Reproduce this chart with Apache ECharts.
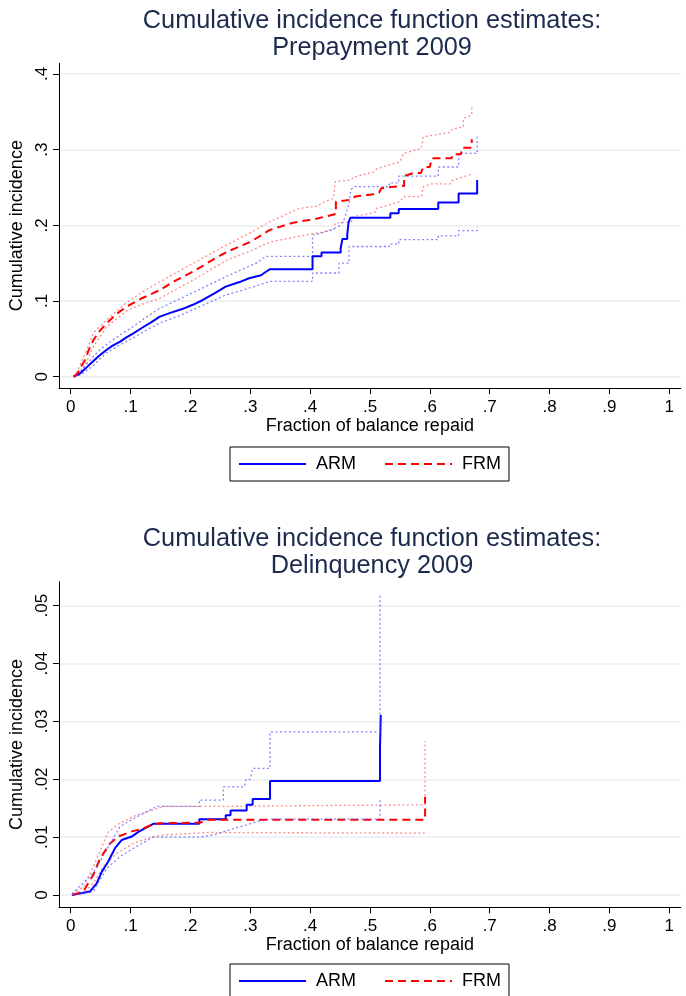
<!DOCTYPE html>
<html><head><meta charset="utf-8">
<script src="https://cdn.jsdelivr.net/npm/echarts@6/dist/echarts.min.js"></script>
<style>html,body{margin:0;padding:0;background:#fff}#c{width:686px;height:996px}</style>
</head><body><div id="c"></div>
<script>
// ---------- tick values ----------
const xTicks = [0, 0.1, 0.2, 0.3, 0.4, 0.5, 0.6, 0.7, 0.8, 0.9, 1];
const prepayYTicks = [0, 0.1, 0.2, 0.3, 0.4];
const delinqYTicks = [0, 0.01, 0.02, 0.03, 0.04, 0.05];

const titleTop = 'Cumulative incidence function estimates:\nPrepayment 2009';
const titleBottom = 'Cumulative incidence function estimates:\nDelinquency 2009';
const xName = 'Fraction of balance repaid';
const yName = 'Cumulative incidence';
const groups = ['ARM', 'FRM'];

// ---------- Prepayment 2009: [fraction repaid, cumulative incidence] ----------
const prepayARM = [[0.005,0],[0.015,0.004],[0.025,0.011],[0.037,0.020],[0.048,0.028],[0.059,0.035],[0.07,0.041],[0.082,0.046],[0.093,0.052],[0.104,0.057],[0.12,0.065],[0.135,0.072],[0.148,0.079],[0.165,0.084],[0.185,0.089],[0.204,0.095],[0.22,0.101],[0.24,0.110],[0.259,0.119],[0.282,0.125],[0.298,0.130],[0.318,0.134],[0.325,0.138],[0.333,0.142],[0.404,0.142],[0.404,0.159],[0.419,0.159],[0.419,0.164],[0.451,0.164],[0.451,0.170],[0.454,0.170],[0.454,0.182],[0.462,0.182],[0.462,0.188],[0.464,0.188],[0.464,0.203],[0.467,0.203],[0.467,0.210],[0.534,0.210],[0.534,0.216],[0.548,0.216],[0.548,0.2215],[0.614,0.2215],[0.614,0.230],[0.648,0.230],[0.648,0.242],[0.679,0.242],[0.679,0.260]];
const prepayARMlo = [[0.005,0],[0.015,0.002],[0.025,0.007],[0.037,0.014],[0.048,0.023],[0.059,0.031],[0.082,0.042],[0.104,0.051],[0.125,0.061],[0.148,0.0705],[0.18,0.080],[0.22,0.094],[0.259,0.108],[0.29,0.115],[0.31,0.120],[0.333,0.126],[0.404,0.126],[0.404,0.137],[0.448,0.137],[0.448,0.150],[0.465,0.150],[0.465,0.172],[0.532,0.172],[0.532,0.175],[0.548,0.175],[0.548,0.181],[0.614,0.181],[0.614,0.186],[0.648,0.186],[0.648,0.193],[0.679,0.193],[0.679,0.198]];
const prepayARMhi = [[0.005,0],[0.015,0.006],[0.025,0.015],[0.037,0.026],[0.048,0.035],[0.059,0.042],[0.082,0.055],[0.104,0.066],[0.125,0.078],[0.148,0.090],[0.18,0.102],[0.22,0.117],[0.259,0.132],[0.29,0.143],[0.31,0.150],[0.326,0.159],[0.404,0.159],[0.404,0.187],[0.415,0.189],[0.437,0.194],[0.451,0.200],[0.458,0.210],[0.465,0.229],[0.468,0.247],[0.473,0.251],[0.532,0.251],[0.532,0.256],[0.548,0.256],[0.548,0.265],[0.614,0.265],[0.614,0.277],[0.648,0.277],[0.648,0.295],[0.679,0.295],[0.679,0.317]];
const prepayFRM = [[0.005,0],[0.012,0.005],[0.018,0.014],[0.024,0.022],[0.03,0.035],[0.038,0.0485],[0.048,0.060],[0.060,0.0705],[0.075,0.082],[0.0935,0.0925],[0.12,0.104],[0.149,0.1145],[0.175,0.127],[0.205,0.139],[0.23,0.151],[0.261,0.165],[0.30,0.178],[0.333,0.194],[0.372,0.2035],[0.412,0.209],[0.443,0.215],[0.443,0.231],[0.469,0.234],[0.475,0.238],[0.505,0.241],[0.515,0.243],[0.519,0.249],[0.553,0.252],[0.557,0.252],[0.557,0.265],[0.572,0.269],[0.585,0.269],[0.589,0.277],[0.600,0.277],[0.603,0.2885],[0.636,0.2885],[0.639,0.294],[0.652,0.294],[0.654,0.3025],[0.670,0.3025],[0.670,0.3136]];
const prepayFRMlo = [[0.005,0],[0.012,0.002],[0.018,0.008],[0.024,0.015],[0.038,0.040],[0.060,0.066],[0.0935,0.087],[0.12,0.096],[0.149,0.1035],[0.205,0.128],[0.261,0.154],[0.30,0.166],[0.333,0.178],[0.372,0.184],[0.405,0.189],[0.414,0.190],[0.439,0.1947],[0.442,0.203],[0.469,0.205],[0.472,0.2114],[0.508,0.217],[0.511,0.2224],[0.550,0.231],[0.556,0.2378],[0.586,0.2378],[0.589,0.251],[0.603,0.2546],[0.634,0.2546],[0.637,0.259],[0.656,0.2642],[0.670,0.2674]];
const prepayFRMhi = [[0.005,0],[0.012,0.008],[0.018,0.020],[0.024,0.030],[0.038,0.058],[0.060,0.075],[0.0935,0.098],[0.12,0.112],[0.149,0.1255],[0.205,0.150],[0.261,0.174],[0.30,0.190],[0.333,0.205],[0.382,0.2224],[0.414,0.2255],[0.418,0.229],[0.439,0.2357],[0.442,0.2357],[0.442,0.2576],[0.469,0.260],[0.472,0.2634],[0.508,0.2708],[0.511,0.2744],[0.550,0.284],[0.556,0.295],[0.586,0.3017],[0.589,0.317],[0.634,0.3228],[0.637,0.3268],[0.656,0.330],[0.656,0.3413],[0.670,0.3457],[0.670,0.3567]];

// ---------- Delinquency 2009 ----------
const delinqARM = [[0.002,0],[0.032,0.0006],[0.0434,0.0020],[0.0518,0.0040],[0.0628,0.0058],[0.074,0.0081],[0.085,0.0095],[0.102,0.0101],[0.113,0.0109],[0.127,0.0117],[0.138,0.0123],[0.2148,0.0123],[0.2148,0.0131],[0.259,0.0131],[0.259,0.0138],[0.267,0.0138],[0.267,0.0146],[0.294,0.0146],[0.294,0.0156],[0.304,0.0156],[0.304,0.0166],[0.333,0.0166],[0.333,0.0197],[0.5167,0.0197],[0.5167,0.0254],[0.518,0.0254],[0.518,0.0311]];
const delinqARMlo = [[0.002,0],[0.0378,0.0006],[0.060,0.0046],[0.082,0.0066],[0.110,0.0084],[0.138,0.0100],[0.2148,0.0100],[0.24,0.0104],[0.272,0.0115],[0.294,0.0121],[0.311,0.0127],[0.333,0.0131],[0.5167,0.0131],[0.5167,0.0167]];
const delinqARMhi = [[0.002,0.0002],[0.0378,0.0038],[0.060,0.0078],[0.082,0.0118],[0.110,0.0135],[0.1437,0.0153],[0.2148,0.0153],[0.2148,0.0164],[0.255,0.0164],[0.255,0.0187],[0.29,0.0187],[0.293,0.0200],[0.30,0.0200],[0.304,0.0219],[0.333,0.0219],[0.333,0.0282],[0.5167,0.0282],[0.5167,0.0521]];
const delinqFRM = [[0.003,0],[0.021,0.0006],[0.0378,0.0035],[0.049,0.0063],[0.0657,0.0089],[0.0795,0.0101],[0.099,0.0109],[0.121,0.0115],[0.135,0.0121],[0.149,0.0124],[0.216,0.0125],[0.23,0.0130],[0.592,0.0130],[0.592,0.0170]];
const delinqFRMlo = [[0.003,0],[0.021,0.0003],[0.0378,0.0020],[0.0545,0.0049],[0.0768,0.0072],[0.1046,0.0089],[0.138,0.0101],[0.1575,0.0104],[0.23,0.0108],[0.592,0.0107]];
const delinqFRMhi = [[0.003,0.0002],[0.021,0.0014],[0.0378,0.0049],[0.0628,0.0109],[0.082,0.0124],[0.110,0.0138],[0.138,0.0147],[0.155,0.0153],[0.23,0.0153],[0.23,0.0156],[0.592,0.0156],[0.592,0.0266]];

// ---------- styling ----------
const FONT = "'Liberation Sans', Arial, Helvetica, sans-serif";
const BLUE = '#0000ff', RED = '#ff0000';
const BLUE_CI = 'rgba(90,90,255,0.75)', RED_CI = 'rgba(255,100,100,0.75)';
const fmt = v => (v === 0 ? '0' : (v === 1 ? '1' : String(v).replace(/^0\./, '.')));

function xAxis(gi) {
  return {
    type: 'value', gridIndex: gi, min: -0.01955, max: 1.01904,
    axisLine: { show: true, onZero: false, lineStyle: { color: '#000', width: 1 } },
    axisTick: { show: true, customValues: xTicks, length: 6, lineStyle: { color: '#000' } },
    axisLabel: { customValues: xTicks, formatter: fmt, color: '#000', fontSize: 17, fontFamily: FONT, margin: 11 },
    splitLine: { show: false },
    name: xName, nameLocation: 'middle', nameGap: 29,
    nameTextStyle: { color: '#000', fontSize: 18, fontFamily: FONT }
  };
}
function yAxis(gi, ticks, min, max) {
  return {
    type: 'value', gridIndex: gi, min: min, max: max,
    axisLine: { show: true, onZero: false, lineStyle: { color: '#000', width: 1 } },
    axisTick: { show: true, customValues: ticks, length: 6, lineStyle: { color: '#000' } },
    axisLabel: { customValues: ticks, formatter: fmt, rotate: 90, color: '#000', fontSize: 17, fontFamily: FONT, margin: 8 },
    splitLine: { show: true, lineStyle: { color: '#e8eef0', width: 1.5 } },
    name: yName, nameLocation: 'middle', nameGap: 27, nameRotate: 90,
    nameTextStyle: { color: '#000', fontSize: 18, fontFamily: FONT }
  };
}
function line(name, data, gi, color, type, width, z) {
  return {
    type: 'line', name: name, data: data, xAxisIndex: gi, yAxisIndex: gi,
    symbol: 'none', showSymbol: false, silent: true, z: z,
    lineStyle: { color: color, width: width, type: type },
    itemStyle: { color: color }
  };
}
function legend(top) {
  return {
    data: groups, left: 230, top: top, orient: 'horizontal',
    borderColor: '#000', borderWidth: 1, padding: [8, 8, 8, 8],
    itemWidth: 67, itemHeight: 14, itemGap: 28, selectedMode: false,
    itemStyle: { opacity: 0, color: 'rgba(0,0,0,0)', borderWidth: 0 },
    textStyle: { color: '#000', fontSize: 18, fontFamily: FONT, lineHeight: 17, padding: [0, 0, 0, 5] }
  };
}

const option = {
  animation: false,
  backgroundColor: '#fff',
  title: [
    { text: titleTop, left: 367, top: 3, textAlign: 'center',
      textStyle: { color: '#1c2a4e', fontSize: 25.3, fontWeight: 'normal', fontFamily: FONT, lineHeight: 27 } },
    { text: titleBottom, left: 367, top: 521, textAlign: 'center',
      textStyle: { color: '#1c2a4e', fontSize: 25.3, fontWeight: 'normal', fontFamily: FONT, lineHeight: 27 } }
  ],
  legend: [legend(447), legend(964)],
  grid: [
    { left: 59, top: 63.3, width: 621.7, height: 324.7, containLabel: false, outerBoundsMode: 'none' },
    { left: 59, top: 581.7, width: 621.7, height: 325.6, containLabel: false, outerBoundsMode: 'none' }
  ],
  xAxis: [xAxis(0), xAxis(1)],
  yAxis: [yAxis(0, prepayYTicks, -0.014927, 0.414), yAxis(1, delinqYTicks, -0.002126, 0.054148)],
  series: [
    line('FRM lower', prepayFRMlo, 0, RED_CI, [2, 2.5], 1.3, 2),
    line('FRM upper', prepayFRMhi, 0, RED_CI, [2, 2.5], 1.3, 2),
    line('ARM lower', prepayARMlo, 0, BLUE_CI, [2, 2.5], 1.3, 2),
    line('ARM upper', prepayARMhi, 0, BLUE_CI, [2, 2.5], 1.3, 2),
    line('ARM', prepayARM, 0, BLUE, 'solid', 2, 4),
    line('FRM', prepayFRM, 0, RED, [8, 5], 2, 5),
    line('FRM lower', delinqFRMlo, 1, RED_CI, [2, 2.5], 1.3, 2),
    line('FRM upper', delinqFRMhi, 1, RED_CI, [2, 2.5], 1.3, 2),
    line('ARM', delinqARM, 1, BLUE, 'solid', 2, 4),
    line('FRM', delinqFRM, 1, RED, [8, 5], 2, 5),
    line('ARM lower', delinqARMlo, 1, BLUE_CI, [2, 2.5], 1.3, 6),
    line('ARM upper', delinqARMhi, 1, BLUE_CI, [2, 2.5], 1.3, 6)
  ]
};
const chart = echarts.init(document.getElementById('c'), null, { renderer: 'canvas' });
chart.setOption(option);
</script>
</body></html>
